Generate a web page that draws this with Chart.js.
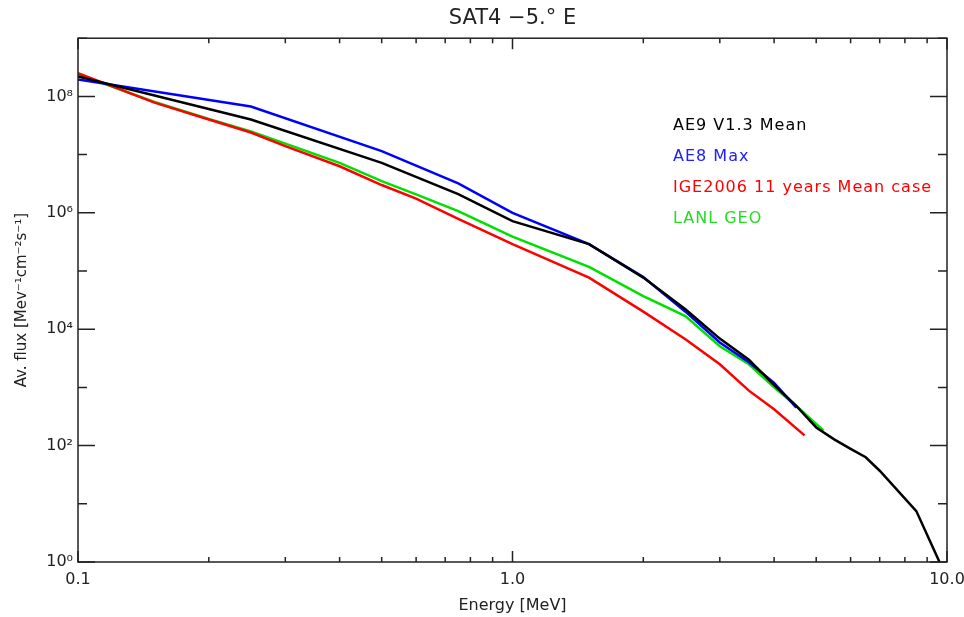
<!DOCTYPE html>
<html>
<head>
<meta charset="utf-8">
<script src="https://cdn.jsdelivr.net/npm/chart.js@4.4.0/dist/chart.umd.min.js"></script>
<style>
  html, body { margin: 0; padding: 0; background: #fff; }
  #wrap { width: 964px; height: 617px; }
</style>
</head>
<body>
<div id="wrap"><canvas id="fluxChart" width="964" height="617"></canvas></div>
<script>
// AE9 V1.3 mean
const ae9Energy = [0.1, 0.25, 0.5, 0.75, 1.0, 1.5, 2.0, 2.5, 3.0, 3.5, 4.0, 4.5, 5.0, 5.5, 6.0, 6.5, 7.0, 8.5, 10.0];
const ae9Flux = [2.2e8, 4.0e7, 7.2e6, 2.1e6, 7.2e5, 2.9e5, 7.7e4, 2.2e4, 6.9e3, 3.0e3, 1.1e3, 480, 205, 128, 88, 63, 37, 7.5, 0.52];

// AE8 max
const ae8Energy = [0.1, 0.25, 0.5, 0.75, 1.0, 1.5, 2.0, 2.5, 3.0, 3.5, 4.0, 4.5];
const ae8Flux = [1.95e8, 6.7e7, 1.15e7, 3.2e6, 1.0e6, 2.9e5, 7.9e4, 2.0e4, 5.9e3, 2.7e3, 1.2e3, 450];

// IGE2006 11 years mean case
const igeEnergy = [0.1, 0.15, 0.2, 0.25, 0.3, 0.4, 0.5, 0.6, 0.75, 1.0, 1.5, 2.0, 2.5, 3.0, 3.5, 4.0, 4.7];
const igeFlux = [2.5e8, 7.8e7, 4.0e7, 2.4e7, 1.4e7, 6.3e6, 3.0e6, 1.75e6, 7.9e5, 2.9e5, 7.7e4, 2.0e4, 6.7e3, 2.5e3, 880, 420, 150];

// LANL GEO
const lanlEnergy = [0.1, 0.15, 0.2, 0.25, 0.4, 0.5, 0.6, 0.75, 1.0, 1.5, 2.0, 2.5, 3.0, 3.5, 4.0, 4.5, 5.2];
const lanlFlux = [2.4e8, 8.0e7, 4.1e7, 2.5e7, 7.2e6, 3.5e6, 2.07e6, 1.07e6, 3.9e5, 1.18e5, 3.7e4, 1.68e4, 5.1e3, 2.5e3, 1.0e3, 480, 180];

const xTicks = [0.1, 0.2, 0.3, 0.4, 0.5, 0.6, 0.7, 0.8, 0.9, 1, 2, 3, 4, 5, 6, 7, 8, 9, 10];
const xTickLabels = ["0.1", "", "", "", "", "", "", "", "", "1.0", "", "", "", "", "", "", "", "", "10.0"];
const yTicks = [1, 1e1, 1e2, 1e3, 1e4, 1e5, 1e6, 1e7, 1e8, 1e9];
const yTickLabels = ["10\u2070", "", "10\u00b2", "", "10\u2074", "", "10\u2076", "", "10\u2078", ""];

const pts = (xs, ys) => xs.map((x, i) => ({ x: x, y: ys[i] }));

Chart.defaults.font.family = "'DejaVu Sans', sans-serif";
Chart.defaults.color = "#222";

// ticks pointing inward on all four sides, plus the frame
const frameTicks = {
    id: "frameTicks",
    afterDraw(chart) {
        const { ctx, chartArea: a, scales: { x, y } } = chart;
        ctx.save();
        ctx.strokeStyle = "#222";
        ctx.lineWidth = 1.5;
        ctx.strokeRect(a.left, a.top, a.right - a.left, a.bottom - a.top);
        ctx.beginPath();
        xTicks.forEach((v, i) => {
            const px = x.getPixelForValue(v);
            const len = xTickLabels[i] ? 11 : 5;
            ctx.moveTo(px, a.bottom); ctx.lineTo(px, a.bottom - len);
            ctx.moveTo(px, a.top); ctx.lineTo(px, a.top + len);
        });
        yTicks.forEach((v, i) => {
            const py = y.getPixelForValue(v);
            const len = yTickLabels[i] ? 17 : 9;
            ctx.moveTo(a.left, py); ctx.lineTo(a.left + len, py);
            ctx.moveTo(a.right, py); ctx.lineTo(a.right - len, py);
        });
        ctx.stroke();
        ctx.restore();
    }
};

// text-only legend inside the plot
const textLegend = {
    id: "textLegend",
    afterDatasetsDraw(chart) {
        const ctx = chart.ctx;
        ctx.save();
        ctx.font = "16px 'DejaVu Sans'";
        ctx.letterSpacing = "1px";
        ctx.textAlign = "left";
        ctx.textBaseline = "alphabetic";
        chart.data.datasets.forEach((ds, i) => {
            ctx.fillStyle = ds.legendColor;
            ctx.fillText(ds.label, 673, 130 + i * 31);
        });
        ctx.restore();
    }
};

new Chart(document.getElementById("fluxChart"), {
    type: "line",
    data: {
        datasets: [{
            label: "AE9 V1.3 Mean",
            data: pts(ae9Energy, ae9Flux),
            borderColor: "#000000",
            legendColor: "#000000"
        }, {
            label: "AE8 Max",
            data: pts(ae8Energy, ae8Flux),
            borderColor: "#0000ff",
            legendColor: "#2020ff"
        }, {
            label: "IGE2006 11 years Mean case",
            data: pts(igeEnergy, igeFlux),
            borderColor: "#ff0000",
            legendColor: "#ff0000"
        }, {
            label: "LANL GEO",
            data: pts(lanlEnergy, lanlFlux),
            borderColor: "#00e000",
            legendColor: "#22dd22"
        }]
    },
    options: {
        responsive: false,
        animation: false,
        layout: { padding: { left: 0, right: 17, top: 0, bottom: 0 } },
        elements: {
            line: { borderWidth: 2.5, tension: 0 },
            point: { radius: 0 }
        },
        plugins: {
            legend: { display: false },
            tooltip: { enabled: false },
            title: {
                display: true,
                text: "SAT4 \u22125.\u00b0 E",
                fullSize: false,
                color: "#222",
                font: { size: 21, weight: "normal" },
                padding: { top: 6, bottom: 7 }
            }
        },
        scales: {
            x: {
                type: "logarithmic",
                min: 0.1,
                max: 10,
                border: { display: false },
                grid: { display: false, drawTicks: false },
                afterBuildTicks: s => { s.ticks = xTicks.map(v => ({ value: v })); },
                afterFit: s => { s.height = 55; s.paddingLeft = 0; s.paddingRight = 0; },
                ticks: {
                    autoSkip: false,
                    maxRotation: 0,
                    padding: 8,
                    font: { size: 16 },
                    callback: (v, i) => xTickLabels[i]
                },
                title: {
                    display: true,
                    text: "Energy [MeV]",
                    font: { size: 16 },
                    padding: { top: 0, bottom: 2 }
                }
            },
            y: {
                type: "logarithmic",
                min: 1,
                max: 1e9,
                border: { display: false },
                grid: { display: false, drawTicks: false },
                afterBuildTicks: s => { s.ticks = yTicks.map(v => ({ value: v })); },
                afterFit: s => { s.width = 78; },
                ticks: {
                    autoSkip: false,
                    padding: 5,
                    font: { size: 16 },
                    callback: (v, i) => yTickLabels[i]
                },
                title: {
                    display: true,
                    text: "Av. flux [Mev\u207b\u00b9cm\u207b\u00b2s\u207b\u00b9]",
                    font: { size: 15 },
                    padding: { top: 13, bottom: 0 }
                }
            }
        }
    },
    plugins: [frameTicks, textLegend]
});
</script>
</body>
</html>
